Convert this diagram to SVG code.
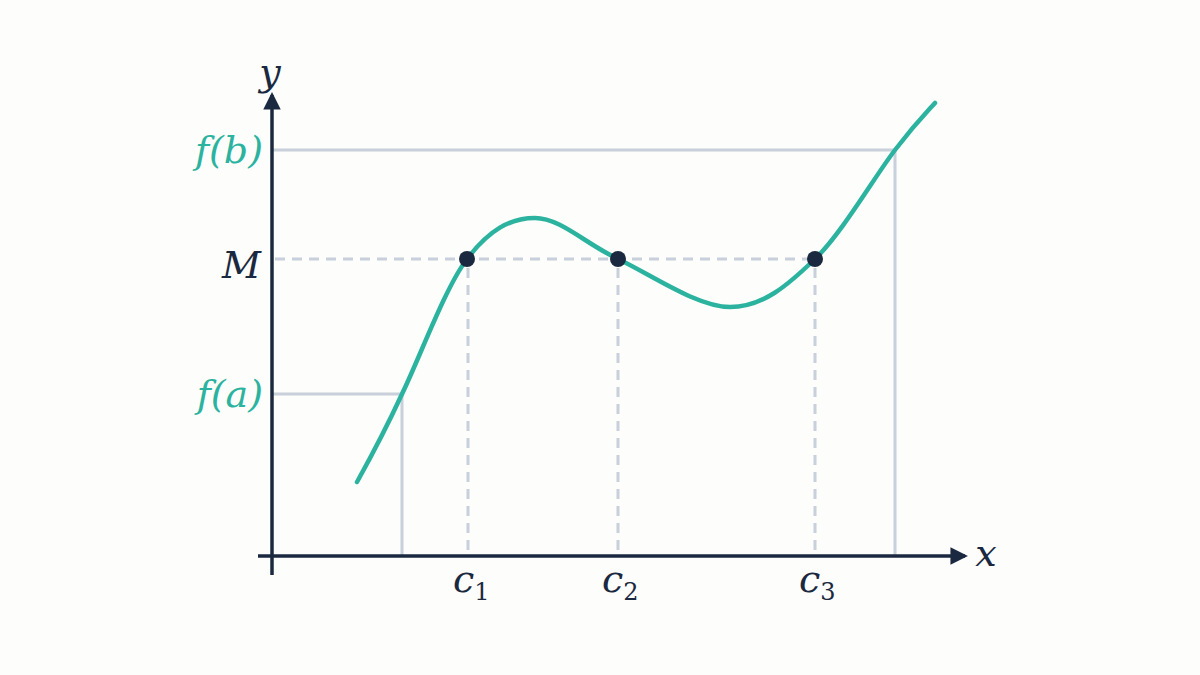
<svg xmlns="http://www.w3.org/2000/svg" width="1200" height="675" viewBox="0 0 1200 675">
<style>
.grid{stroke:#c8d0dc;stroke-width:3;fill:none}
.dash{stroke:#c8d0dc;stroke-width:3;fill:none;stroke-dasharray:10 7}
.axis{stroke:#1b2940;stroke-width:3.5;fill:none}
.curve{stroke:#2bb39f;stroke-width:4.5;fill:none;stroke-linecap:round}
.lab{font-family:'DejaVu Serif','Liberation Serif',serif;font-style:italic;font-size:38px}
.teal{fill:#2bb39f}
.navy{fill:#1b2940}
.sub{font-family:'DejaVu Serif','Liberation Serif',serif;font-style:normal;font-size:24px;fill:#1b2940}
</style>
<defs>
<marker id="arr" viewBox="0 0 12 12" refX="10" refY="6" markerWidth="5" markerHeight="5" orient="auto" markerUnits="strokeWidth">
<path d="M0,0 L12,6 L0,12 z" fill="#1b2940"/>
</marker>
</defs>
<rect width="1200" height="675" fill="#fdfdfb"/>
<g id="guides">
<path class="grid" d="M272,150 H895 V556"/>
<path class="grid" d="M272,394 H402 V556"/>
<path class="dash" d="M275,259 H815"/>
<path class="dash" d="M468,268 V556"/>
<path class="dash" d="M618,268 V556"/>
<path class="dash" d="M815,268 V556"/>
</g>
<g id="axes">
<line class="axis" x1="272" y1="575" x2="272" y2="95" marker-end="url(#arr)"/>
<line class="axis" x1="258" y1="556" x2="965" y2="556" marker-end="url(#arr)"/>
</g>
<g id="curve">
<path class="curve" d="M357,482 C372,455 390,420 402,394 C420,357 445,288 467,259 C489,230 510,218 535,218 C560,218 586,244 618,259 C650,274 697,307 730,307 C763,307 788,285 815,259 C842,233 875,176 895,150 C915,124 925,114 935,103"/>
</g>
<g id="points" fill="#1b2940">
<circle cx="467" cy="259" r="8"/>
<circle cx="618" cy="259" r="8"/>
<circle cx="815" cy="259" r="8"/>
</g>
<g id="labels">
<text class="lab navy" x="270" y="85" text-anchor="middle">y</text>
<text class="lab navy" x="986" y="566" text-anchor="middle">x</text>
<text class="lab teal" x="263" y="163" text-anchor="end">f(b)</text>
<text class="lab navy" x="261" y="278" text-anchor="end">M</text>
<text class="lab teal" x="263" y="407" text-anchor="end">f(a)</text>
<text class="lab navy" x="453" y="592">c<tspan class="sub" dy="8">1</tspan></text>
<text class="lab navy" x="602" y="592">c<tspan class="sub" dy="8">2</tspan></text>
<text class="lab navy" x="799" y="592">c<tspan class="sub" dy="8">3</tspan></text>
</g>
</svg>
